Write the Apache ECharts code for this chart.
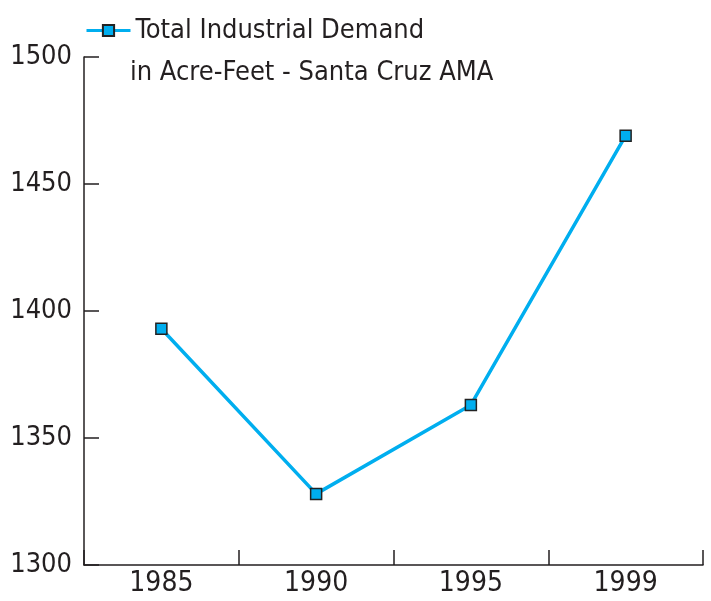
<!DOCTYPE html>
<html>
<head>
<meta charset="utf-8">
<script src="https://cdn.jsdelivr.net/npm/echarts@6/dist/echarts.min.js"></script>
<style>
  html, body { margin: 0; padding: 0; background: #fff; }
  #chart { width: 711px; height: 601px; }
</style>
</head>
<body>
<div id="chart"></div>
<script>
  var years = ['1985', '1990', '1995', '1999'];
  var demand = [1393, 1328, 1363, 1469];
  var seriesName = 'Total Industrial Demand';
  var subName = 'in Acre-Feet - Santa Cruz AMA';

  var font = '"Liberation Sans Narrow", "DejaVu Sans Condensed", sans-serif';
  var ink = '#231f20';
  var blue = '#00aeef';

  var chart = echarts.init(document.getElementById('chart'));
  chart.setOption({
    animation: false,
    title: {
      text: subName,
      left: 125,
      top: 54,
      textStyle: { fontFamily: font, fontSize: 27, fontWeight: 'normal', color: ink }
    },
    legend: {
      left: 80,
      top: 12,
      itemWidth: 44,
      itemHeight: 14,
      itemGap: 5,
      lineStyle: { width: 3 },
      textStyle: { fontFamily: font, fontSize: 27, color: ink },
      data: [seriesName]
    },
    grid: { left: 84, right: 8, top: 57, bottom: 36 },
    xAxis: {
      type: 'category',
      data: years,
      boundaryGap: true,
      axisLine: { lineStyle: { color: ink, width: 1.5 } },
      axisTick: { show: true, interval: 0, inside: true, length: 15, lineStyle: { color: ink, width: 1.5 } },
      axisLabel: { fontFamily: font, fontSize: 28, color: ink, margin: 5 }
    },
    yAxis: {
      type: 'value',
      min: 1300,
      max: 1500,
      interval: 50,
      axisLine: { show: true, lineStyle: { color: ink, width: 1.5 } },
      axisTick: { show: true, inside: true, length: 15, lineStyle: { color: ink, width: 1.5 } },
      splitLine: { show: false },
      axisLabel: {
        fontFamily: font, fontSize: 27, color: ink, margin: 12,
        formatter: function (v) { return String(v); }
      }
    },
    series: [{
      name: seriesName,
      type: 'line',
      data: demand,
      symbol: 'rect',
      symbolSize: 11,
      lineStyle: { color: blue, width: 3.5 },
      itemStyle: { color: blue, borderColor: '#222', borderWidth: 1.5 }
    }]
  });
</script>
</body>
</html>
